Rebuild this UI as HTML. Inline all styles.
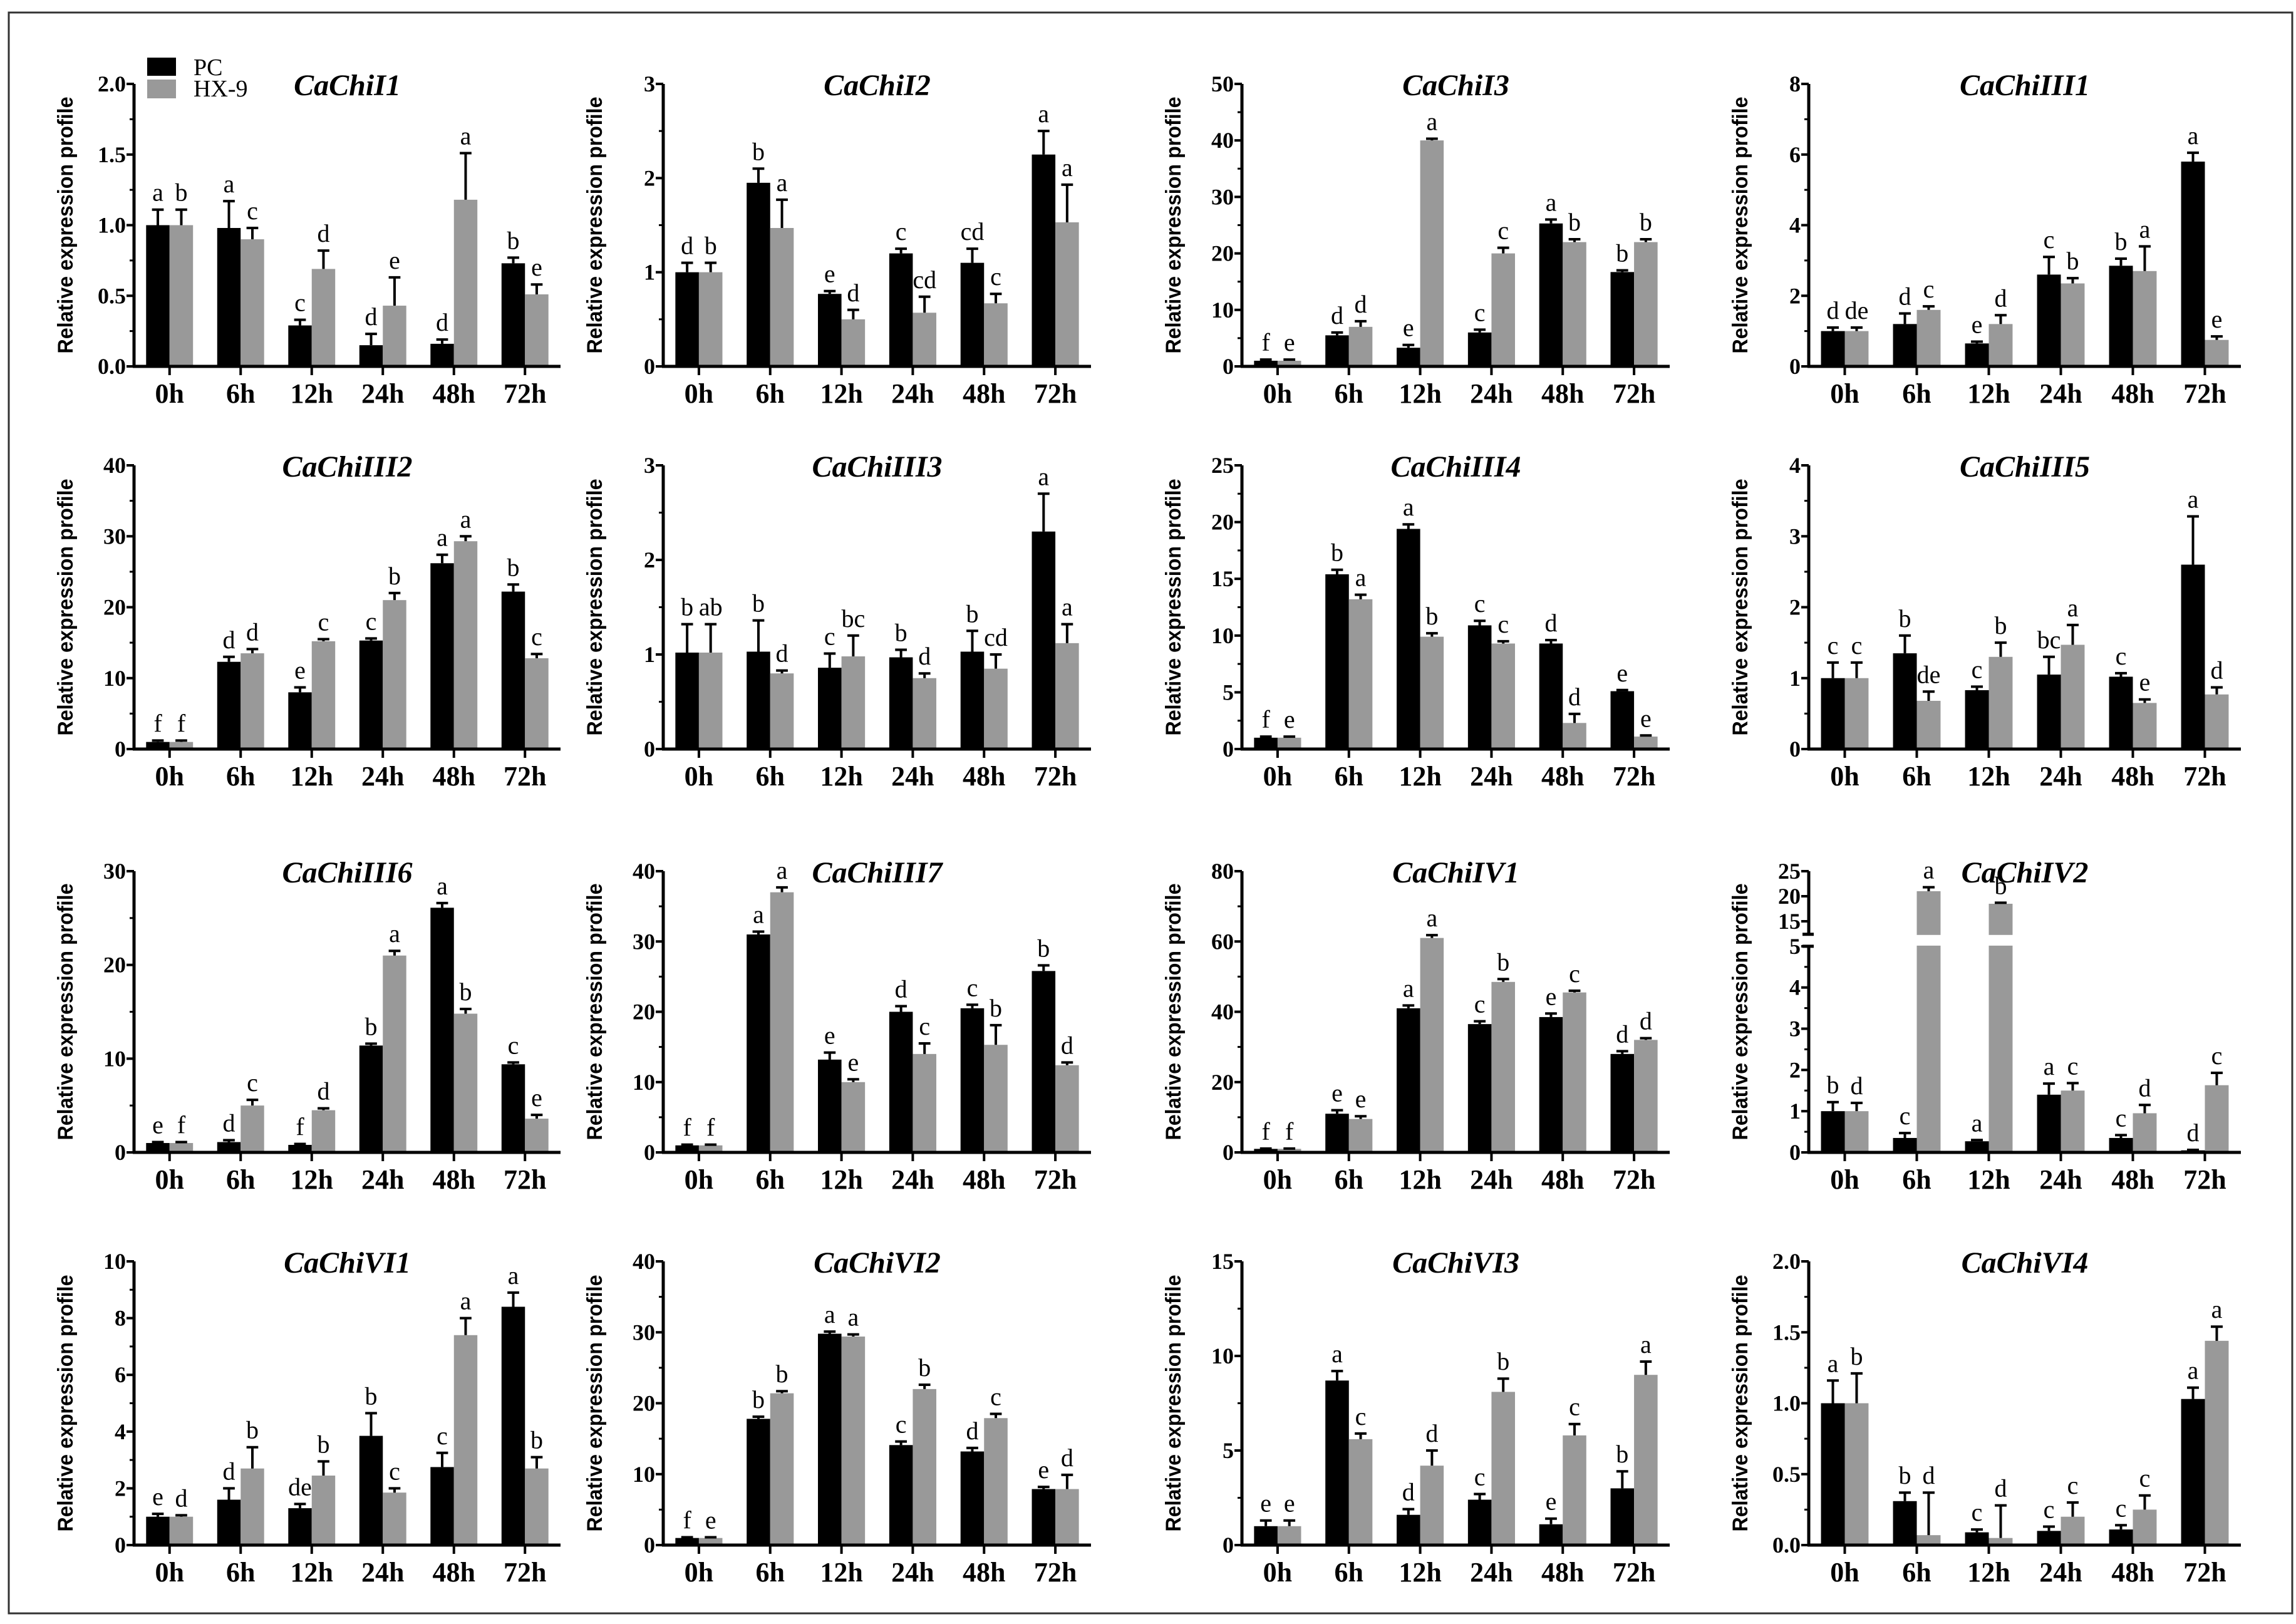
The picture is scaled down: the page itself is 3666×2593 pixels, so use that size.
<!DOCTYPE html>
<html><head><meta charset="utf-8">
<style>
html,body{margin:0;padding:0;background:#fff;}
svg{display:block;}
text{font-family:"Liberation Serif",serif;}
</style></head>
<body>
<svg id="chart" width="3666" height="2593" viewBox="0 0 3666 2593" xmlns="http://www.w3.org/2000/svg">
<rect x="14" y="20" width="3646" height="2556" fill="#fff" stroke="#333" stroke-width="3"/>
</svg>
<script>
const categories = ["0h","6h","12h","24h","48h","72h"];
const titles = ["CaChiI1","CaChiI2","CaChiI3","CaChiIII1","CaChiIII2","CaChiIII3","CaChiIII4","CaChiIII5","CaChiIII6","CaChiIII7","CaChiIV1","CaChiIV2","CaChiVI1","CaChiVI2","CaChiVI3","CaChiVI4"];
const yMax = [2,3,50,8,40,3,25,4,30,40,80,5,10,40,15,2];
const yStep = [0.5,1,10,2,10,1,5,1,10,10,20,1,2,10,5,0.5];
const yDecimals = [1,0,0,0,0,0,0,0,0,0,0,0,0,0,0,1];
const pcValues = [
 [1.0,0.98,0.29,0.15,0.16,0.73],
 [1.0,1.95,0.77,1.2,1.1,2.25],
 [1,5.5,3.3,6,25.3,16.7],
 [1,1.2,0.65,2.6,2.85,5.8],
 [1,12.3,8,15.3,26.2,22.2],
 [1.02,1.03,0.86,0.97,1.03,2.3],
 [1,15.4,19.4,10.9,9.3,5.1],
 [1.0,1.35,0.83,1.05,1.02,2.6],
 [1,1.1,0.8,11.4,26.1,9.4],
 [1,31,13.2,20,20.5,25.8],
 [1,11,41,36.5,38.5,28],
 [1,0.35,0.27,1.4,0.35,0.05],
 [1,1.6,1.3,3.85,2.75,8.4],
 [1,17.8,29.8,14.1,13.2,7.9],
 [1,8.7,1.6,2.4,1.1,3],
 [1.0,0.31,0.09,0.1,0.11,1.03]];
const pcErrors = [
 [0.11,0.19,0.04,0.08,0.03,0.04],
 [0.1,0.15,0.03,0.05,0.15,0.25],
 [0.2,0.5,0.5,0.5,0.7,0.3],
 [0.1,0.3,0.05,0.5,0.2,0.25],
 [0.2,0.7,0.7,0.3,1.2,1],
 [0.3,0.33,0.15,0.08,0.22,0.4],
 [0.1,0.4,0.4,0.4,0.3,0.1],
 [0.22,0.25,0.05,0.25,0.05,0.68],
 [0.1,0.2,0.1,0.2,0.5,0.2],
 [0.1,0.4,1,0.8,0.5,0.8],
 [0.1,1,0.8,0.8,1,0.8],
 [0.22,0.12,0.03,0.27,0.07,0.01],
 [0.1,0.4,0.15,0.8,0.5,0.5],
 [0.1,0.3,0.3,0.5,0.5,0.3],
 [0.3,0.5,0.3,0.3,0.3,0.9],
 [0.16,0.06,0.02,0.03,0.03,0.08]];
const hxValues = [
 [1.0,0.9,0.69,0.43,1.18,0.51],
 [1.0,1.47,0.5,0.57,0.67,1.53],
 [1,7,40,20,22,22],
 [1,1.6,1.2,2.35,2.7,0.75],
 [1,13.5,15.2,21,29.3,12.8],
 [1.02,0.8,0.98,0.75,0.85,1.12],
 [1,13.2,9.9,9.3,2.3,1.1],
 [1.0,0.68,1.3,1.47,0.65,0.77],
 [1,5,4.5,21,14.8,3.6],
 [1,37,10,14,15.3,12.4],
 [1,9.5,61,48.5,45.5,32],
 [1,21,18.5,1.5,0.95,1.63],
 [1,2.7,2.45,1.85,7.4,2.7],
 [1,21.4,29.4,22,17.9,7.9],
 [1,5.6,4.2,8.1,5.8,9],
 [1.0,0.07,0.05,0.2,0.25,1.44]];
const hxErrors = [
 [0.11,0.08,0.13,0.2,0.33,0.07],
 [0.1,0.3,0.1,0.17,0.1,0.4],
 [0.2,1,0.3,1,0.5,0.5],
 [0.1,0.1,0.25,0.15,0.7,0.1],
 [0.2,0.6,0.3,1,0.7,0.6],
 [0.3,0.03,0.22,0.05,0.15,0.2],
 [0.1,0.4,0.3,0.2,0.8,0.1],
 [0.22,0.13,0.2,0.28,0.05,0.1],
 [0.1,0.6,0.2,0.5,0.5,0.4],
 [0.1,0.7,0.4,1.5,2.8,0.4],
 [0.1,0.8,0.8,0.8,0.5,0.5],
 [0.2,0.8,0.2,0.18,0.2,0.3],
 [0.05,0.75,0.5,0.15,0.6,0.4],
 [0.1,0.3,0.3,0.6,0.6,2],
 [0.3,0.3,0.8,0.7,0.6,0.7],
 [0.21,0.3,0.23,0.1,0.1,0.1]];
const pcLetters = [
 ["a","a","c","d","d","b"],["d","b","e","c","cd","a"],["f","d","e","c","a","b"],["d","d","e","c","b","a"],
 ["f","d","e","c","a","b"],["b","b","c","b","b","a"],["f","b","a","c","d","e"],["c","b","c","bc","c","a"],
 ["e","d","f","b","a","c"],["f","a","e","d","c","b"],["f","e","a","c","e","d"],["b","c","a","a","c","d"],
 ["e","d","de","b","c","a"],["f","b","a","c","d","e"],["e","a","d","c","e","b"],["a","b","c","c","c","a"]];
const hxLetters = [
 ["b","c","d","e","a","e"],["b","a","d","cd","c","a"],["e","d","a","c","b","b"],["de","c","d","b","a","e"],
 ["f","d","c","b","a","c"],["ab","d","bc","d","cd","a"],["e","a","b","c","d","e"],["c","de","b","a","e","d"],
 ["f","c","d","a","b","e"],["f","a","e","c","b","d"],["f","e","a","b","c","d"],["d","a","b","c","d","c"],
 ["d","b","b","c","a","b"],["e","b","a","b","c","d"],["e","c","d","b","c","a"],["b","d","d","c","c","a"]];

const colX0 = [214,1059,1983,2888];
const colX1 = [895,1742,2666,3578];
const rowTop = [134,743,1391,2014];
const rowBase = [585,1196,1840,2467];
const NS = "http://www.w3.org/2000/svg";
const svg = document.getElementById("chart");
function mk(tag, attrs, parent){
  const e = document.createElementNS(NS, tag);
  for (const k in attrs) e.setAttribute(k, attrs[k]);
  (parent||svg).appendChild(e);
  return e;
}

titles.forEach((title, p) => {
  const r = Math.floor(p/4), c = p%4;
  const x0 = colX0[c], x1 = colX1[c], top = rowTop[r], base = rowBase[r];
  const g = mk("g", {});
  
  
  const broken = (p === 11);
  let yScale;
  if (!broken) {
    yScale = v => base - (v / yMax[p]) * (base - top);
  } else {
    const lowTop = base - (base - top) * 0.733;
    const upBottom = lowTop - 19;
    const upPerUnit = 8;
    yScale = v => v <= 5 ? base - v * (base - lowTop) / 5 :
                 (v < 12.4 ? upBottom : top + (25 - v) * upPerUnit);
  }
  const step = (x1 - x0) / categories.length;
  const bw = step * 0.33;
  const xCenter = i => x0 + step * (i + 0.5);

  [[pcValues, pcErrors, "#000", "pc"], [hxValues, hxErrors, "#999", "hx9"]].forEach(([vals, errs, col, key], s) => {
    vals[p].forEach((v, i) => {
      const bx = xCenter(i) - bw + s * bw;
      const yv = yScale(v);
      const bar = mk("rect", {x: bx, y: yv, width: bw, height: base - yv, fill: col}, g);
      
      
      const ye = yScale(v + errs[p][i]);
      const cx = bx + bw / 2;
      const eb = mk("path", {d: `M${cx} ${yv} V${ye} M${cx-bw*0.25} ${ye} H${cx+bw*0.25}`, stroke: "#000", "stroke-width": 4, fill: "none"}, g);
      
      
      const lab = (s === 0 ? pcLetters : hxLetters)[p][i];
      const t = mk("text", {x: cx, y: ye - 14, "text-anchor": "middle", "font-size": 40}, g);
      t.textContent = lab;
      
      
    });
  });
  if (broken) {
    const lowTop = yScale(5), upB = yScale(12.4);
    mk("rect", {x: x0 + 4, y: upB + 1, width: x1 - x0, height: lowTop - upB - 2, fill: "#fff"}, g);
  }

  if (!broken) {
    const ya = mk("line", {x1: x0, y1: top, x2: x0, y2: base + 2, stroke: "#000", "stroke-width": 5}, g);
    
    
  } else {
    const lowTop = yScale(5), upB = yScale(12.4);
    const ya = mk("path", {d: `M${x0} ${top} V${upB} M${x0} ${lowTop} V${base+2} M${x0-10} ${upB} H${x0+8} M${x0-10} ${lowTop} H${x0+8}`, stroke: "#000", "stroke-width": 5, fill: "none"}, g);
    
    
  }
  const xa = mk("line", {x1: x0 - 2, y1: base, x2: x1, y2: base, stroke: "#000", "stroke-width": 5}, g);
  
  

  const ticks = broken ? [0,1,2,3,4,5,15,20,25] : [];
  if (!broken) for (let v = 0; v <= yMax[p] + 1e-9; v += yStep[p]) ticks.push(v);
  ticks.forEach(v => {
    const y = yScale(v);
    mk("line", {x1: x0 - 12, y1: y, x2: x0, y2: y, stroke: "#000", "stroke-width": 4}, g);
    const t = mk("text", {x: x0 - 13, y: y + 12, "text-anchor": "end", "font-size": 36, "font-weight": "bold"}, g);
    t.textContent = v.toFixed(broken ? 0 : yDecimals[p]);
    
    
  });
  if (!broken) {
    for (let v = yStep[p] / 2; v < yMax[p]; v += yStep[p]) {
      const y = yScale(v);
      mk("line", {x1: x0 - 7, y1: y, x2: x0, y2: y, stroke: "#000", "stroke-width": 3}, g);
    }
  } else {
    for (let v = 0.5; v < 5; v += 1) { const y = yScale(v); mk("line", {x1: x0 - 7, y1: y, x2: x0, y2: y, stroke: "#000", "stroke-width": 3}, g); }
  }
  categories.forEach((cat, i) => {
    const cx = xCenter(i);
    mk("line", {x1: cx, y1: base, x2: cx, y2: base + 14, stroke: "#000", "stroke-width": 4}, g);
    const t = mk("text", {x: cx, y: base + 58, "text-anchor": "middle", "font-size": 44, "font-weight": "bold"}, g);
    t.textContent = cat;
    
    
  });
  const tt = mk("text", {x: (x0 + x1) / 2, y: top + 18, "text-anchor": "middle", "font-size": 48, "font-weight": "bold", "font-style": "italic"}, g);
  tt.textContent = title;
  
  
  const cy = (top + base) / 2;
  const yt = mk("text", {x: 0, y: 0, transform: `translate(${x0 - 98},${cy}) rotate(-90)`, "text-anchor": "middle", "font-size": 34, "font-weight": "bold", textLength: 410, lengthAdjust: "spacingAndGlyphs", style: 'font-family:"Liberation Sans",sans-serif'}, g);
  yt.textContent = "Relative expression profile";
  
  
});

const lg = mk("g", {});


const l1 = mk("rect", {x: 235, y: 92, width: 46, height: 29, fill: "#000"}, lg);


const l2 = mk("rect", {x: 235, y: 127, width: 46, height: 30, fill: "#999"}, lg);


const lt1 = mk("text", {x: 309, y: 120, "font-size": 38}, lg);
lt1.textContent = "PC";


const lt2 = mk("text", {x: 309, y: 154, "font-size": 38}, lg);
lt2.textContent = "HX-9";


</script>
</body></html>
